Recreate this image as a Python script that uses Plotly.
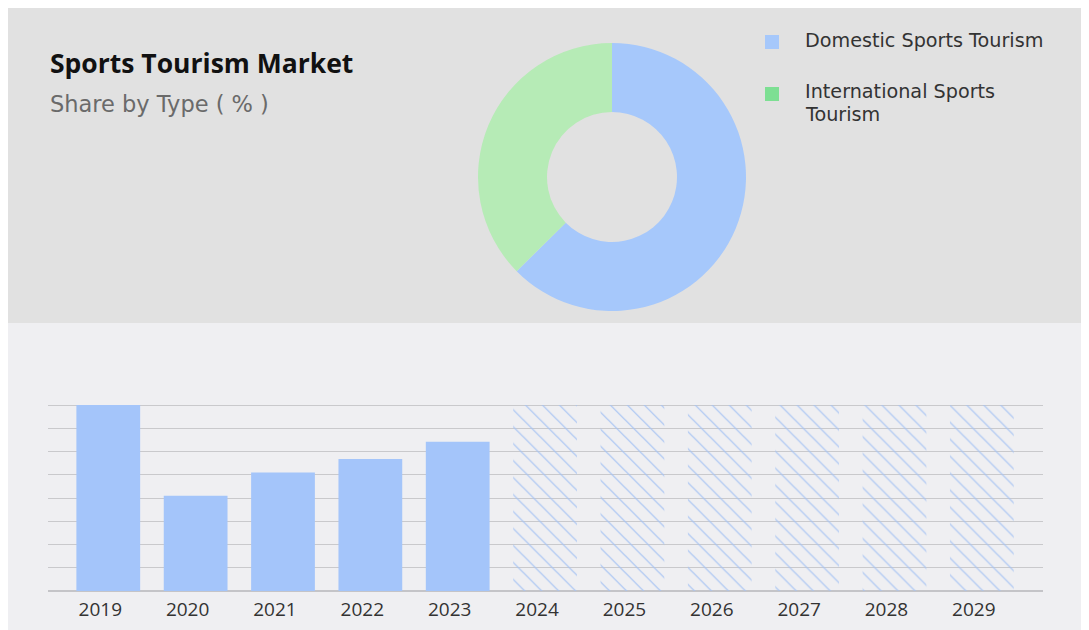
import plotly.graph_objects as go

W, H = 1089, 630
OFF = 8  # page body margin offset of the screenshot

# ---- data ----
share_labels = ["Domestic Sports Tourism", "International Sports Tourism"]
share_values = [62.6, 37.4]
share_colors = ["#a6c8fb", "#b6ebb6"]
legend_colors = ["#a6c8fb", "#7ddf93"]
legend_lines = [["Domestic Sports Tourism"], ["International Sports", "Tourism"]]

years_actual = ["2019", "2020", "2021", "2022", "2023"]
values_actual = [8.0, 4.1, 5.1, 5.68, 6.42]
years_forecast = ["2024", "2025", "2026", "2027", "2028", "2029"]
values_forecast = [8.0, 8.0, 8.0, 8.0, 8.0, 8.0]
all_years = years_actual + years_forecast

title_text = "Sports Tourism Market"
subtitle_text = "Share by Type ( % )"


def px_x(p):
    return (p - OFF) / W


def px_y(p):
    return 1 - (p - OFF) / H


fig = go.Figure()

# donut
cx, cy, r = 612, 177, 134
fig.add_trace(go.Pie(
    labels=share_labels, values=share_values,
    marker=dict(colors=share_colors, line=dict(width=0)),
    hole=0.485, sort=False, direction="clockwise", rotation=0,
    textinfo="none", hoverinfo="label+percent", showlegend=False,
    domain=dict(x=[px_x(cx - r), px_x(cx + r)], y=[px_y(cy + r), px_y(cy - r)]),
))

# bars
fig.add_trace(go.Bar(
    x=years_actual, y=values_actual, width=0.73,
    marker=dict(color="#a4c5fa", line=dict(width=0)),
    showlegend=False,
))
fig.add_trace(go.Bar(
    x=years_forecast, y=values_forecast, width=0.73,
    marker=dict(color="#a6c3f3", line=dict(width=0),
                pattern=dict(shape="\\", size=12, solidity=0.1, fillmode="replace")),
    showlegend=False,
))

shapes = [
    dict(type="rect", xref="paper", yref="paper", x0=0, x1=1, y0=px_y(323), y1=1,
         fillcolor="#e1e1e1", line=dict(width=0), layer="below"),
    dict(type="rect", xref="paper", yref="paper", x0=0, x1=1, y0=0, y1=px_y(323),
         fillcolor="#efeff2", line=dict(width=0), layer="below"),
]
annotations = [
    dict(text="<b>" + title_text + "</b>", x=px_x(48), y=px_y(63), xref="paper", yref="paper",
         xanchor="left", yanchor="middle", showarrow=False,
         font=dict(family="Open Sans", size=26.5, color="#111111")),
    dict(text=subtitle_text, x=px_x(48), y=px_y(104), xref="paper", yref="paper",
         xanchor="left", yanchor="middle", showarrow=False,
         font=dict(family="DejaVu Sans", size=22.5, color="#6a6a6a")),
]

legend_rows = [40, 92]
for lines, col, yy in zip(legend_lines, legend_colors, legend_rows):
    shapes.append(dict(type="rect", xref="paper", yref="paper",
                       x0=px_x(765), x1=px_x(779), y0=px_y(yy + 2 + 7), y1=px_y(yy + 2 - 7),
                       fillcolor=col, line=dict(width=0)))
    for k, line in enumerate(lines):
        annotations.append(dict(text=line, x=px_x(803), y=px_y(yy + 22 * k), xref="paper", yref="paper",
                                xanchor="left", yanchor="middle", align="left", showarrow=False,
                                font=dict(family="DejaVu Sans", size=19.2, color="#333333")))

fig.update_layout(
    width=W, height=H,
    margin=dict(l=0, r=0, t=0, b=0),
    paper_bgcolor="#ffffff", plot_bgcolor="rgba(0,0,0,0)",
    shapes=shapes, annotations=annotations,
    xaxis=dict(domain=[px_x(48), px_x(1043)], type="category",
               categoryorder="array", categoryarray=all_years,
               range=[-0.69, 10.7], showgrid=False, showline=False, zeroline=False,
               ticks="", ticklabelshift=-8, ticklabelstandoff=5,
               tickfont=dict(family="Open Sans", size=19, color="#333333")),
    yaxis=dict(domain=[px_y(591), px_y(402.7)], range=[0, 8.1], dtick=1,
               showgrid=True, gridcolor="#c9c9cc", gridwidth=1,
               zeroline=True, zerolinecolor="#c4c4c8", zerolinewidth=1.5,
               showticklabels=False, ticks=""),
)

fig.write_html("out.html")
